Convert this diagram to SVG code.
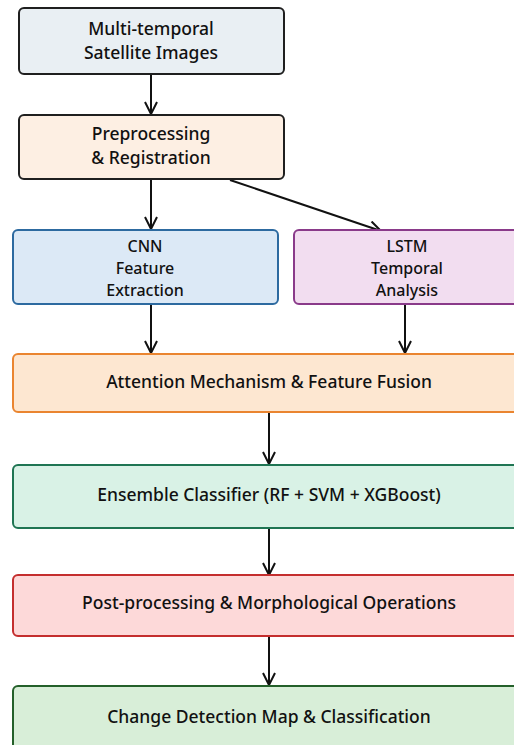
<svg xmlns="http://www.w3.org/2000/svg" width="514" height="745" viewBox="0 0 514 745">
<style>
rect{stroke-width:2}
text{font-family:"Noto Sans","Open Sans",sans-serif;font-size:17.5px;font-weight:500;fill:#111;text-anchor:middle}
text.s{font-size:16px}
.c line{stroke:#111;stroke-width:2;fill:none}
</style>
<defs>
<marker id="ah" viewBox="0 0 14 14" refX="13" refY="7" markerWidth="14" markerHeight="14" markerUnits="userSpaceOnUse" orient="auto">
<polyline points="1,1 13,7 1,13" fill="none" stroke="#111" stroke-width="2"/>
</marker>
</defs>
<rect width="514" height="745" fill="#ffffff"/>
<g class="c">
<line x1="151" y1="74" x2="151" y2="114" marker-end="url(#ah)"/>
<line x1="151" y1="179" x2="151" y2="229" marker-end="url(#ah)"/>
<line x1="230" y1="180" x2="381" y2="231" marker-end="url(#ah)"/>
<line x1="151" y1="304" x2="151" y2="353" marker-end="url(#ah)"/>
<line x1="405" y1="304" x2="405" y2="353" marker-end="url(#ah)"/>
<line x1="269" y1="412" x2="269" y2="464" marker-end="url(#ah)"/>
<line x1="269" y1="528" x2="269" y2="575" marker-end="url(#ah)"/>
<line x1="269" y1="636" x2="269" y2="685" marker-end="url(#ah)"/>
</g>
<g id="n1">
<rect x="19" y="8" width="265" height="66" rx="5" fill="#e9eff3" stroke="#1f1f1f"/>
<text x="151" y="35">Multi-temporal</text>
<text x="151" y="59">Satellite Images</text>
</g>
<g id="n2">
<rect x="19" y="115" width="265" height="64" rx="5" fill="#fdefe3" stroke="#1f1f1f"/>
<text x="151" y="140">Preprocessing</text>
<text x="151" y="164">&amp; Registration</text>
</g>
<g id="n3">
<rect x="13" y="230" width="265" height="74" rx="5" fill="#dce9f6" stroke="#2d6aa0"/>
<text class="s" x="145" y="252">CNN</text>
<text class="s" x="145" y="274">Feature</text>
<text class="s" x="145" y="296">Extraction</text>
</g>
<g id="n4">
<rect x="294" y="230" width="226" height="74" rx="5" fill="#f2ddf0" stroke="#8a3a8a"/>
<text class="s" x="407" y="252">LSTM</text>
<text class="s" x="407" y="274">Temporal</text>
<text class="s" x="407" y="296">Analysis</text>
</g>
<g id="n5">
<rect x="13" y="354" width="512" height="58" rx="5" fill="#fde7d1" stroke="#ea8530"/>
<text x="269" y="388">Attention Mechanism &amp; Feature Fusion</text>
</g>
<g id="n6">
<rect x="13" y="465" width="512" height="63" rx="5" fill="#d9f2e6" stroke="#1f7553"/>
<text x="269" y="501">Ensemble Classifier (RF + SVM + XGBoost)</text>
</g>
<g id="n7">
<rect x="13" y="575" width="512" height="61" rx="5" fill="#fdd9d9" stroke="#c42e2e"/>
<text x="269" y="609">Post-processing &amp; Morphological Operations</text>
</g>
<g id="n8">
<rect x="13" y="686" width="512" height="70" rx="5" fill="#d8eed8" stroke="#24602a"/>
<text x="269" y="723">Change Detection Map &amp; Classification</text>
</g>
</svg>
